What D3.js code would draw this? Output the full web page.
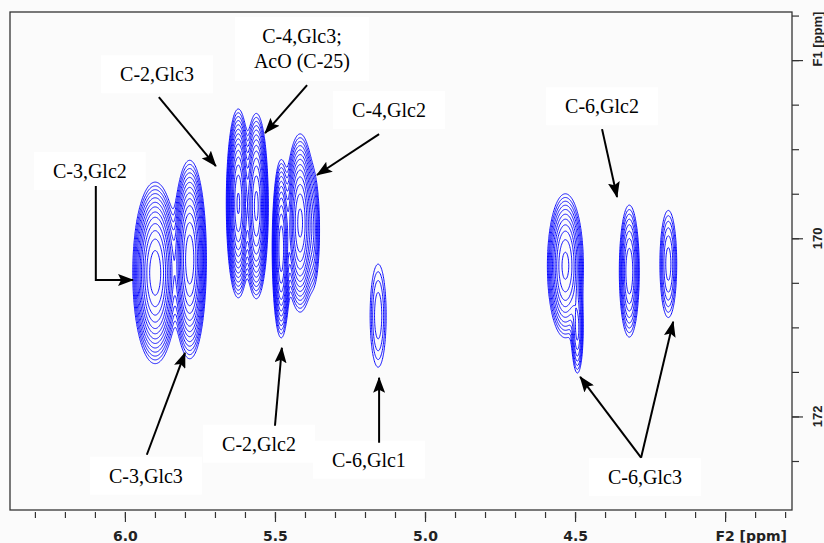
<!DOCTYPE html>
<html>
<head>
<meta charset="utf-8">
<script src="https://cdn.jsdelivr.net/npm/d3@7"></script>
<style>
  body { margin: 0; background: #fbfbfb; }
  svg { display: block; }
</style>
</head>
<body>
<svg id="chart" width="824" height="543"></svg>
<script>
// HMBC cross peaks (F2 = 1H, F1 = 13C)
const peakNames   = ["C-3,Glc2", "C-3,Glc3", "C-2,Glc3", "C-4,Glc3", "C-2,Glc2", "C-4,Glc2",
                     "C-4,Glc2 sh", "C-6,Glc1", "C-6,Glc3 a", "C-6,Glc3 a tail", "C-6,Glc2", "C-6,Glc3 b"];
const peakF2      = [5.900, 5.785, 5.623, 5.563, 5.480, 5.417, 5.373, 5.157, 4.533, 4.493, 4.320, 4.190];
const peakF1      = [170.38, 170.23, 169.60, 169.63, 170.11, 169.82, 169.91, 170.86, 170.30, 171.03, 170.36, 170.28];
const peakWidthF2 = [0.0275, 0.0205, 0.0145, 0.0150, 0.0115, 0.0188, 0.0120, 0.0180, 0.0245, 0.0100, 0.0155, 0.0156];
const peakWidthF1 = [0.375, 0.410, 0.384, 0.390, 0.383, 0.375, 0.350, 0.390, 0.330, 0.250, 0.345, 0.335];
const peakHeight  = [40, 40, 45, 35, 30, 35, 4, 3, 20, 6, 10, 5];

const contourLevels = [1, 1.35, 1.8, 2.4, 3.2, 4.3, 5.7, 7.6, 10, 13.5, 18, 24, 32, 43];

// axes
const f2Major = [6.0, 5.5, 5.0, 4.5, 4.0];
const f2MajorLabels = ["6.0", "5.5", "5.0", "4.5", ""];
const f1Major = [168, 170, 172];
const f1MajorLabels = ["", "170", "172"];

// annotations: text lines, anchor (ppm), arrow polylines ending at the peak (ppm)
const labelText = [["C-3,Glc2"], ["C-2,Glc3"], ["C-4,Glc3;", "AcO (C-25)"], ["C-4,Glc2"],
                   ["C-3,Glc3"], ["C-2,Glc2"], ["C-6,Glc1"], ["C-6,Glc2"], ["C-6,Glc3"]];
const labelF2 = [6.117, 5.893, 5.410, 5.120, 5.930, 5.553, 5.187, 4.410, 4.267];
const labelF1 = [169.324, 168.237, 167.810, 168.640, 172.743, 172.385, 172.564, 168.596, 172.760];
const arrowPaths = [
  [[6.097, 169.414], [6.097, 170.468], [5.973, 170.468]],
  [[5.887, 168.416], [5.697, 169.189]],
  [[5.393, 168.281], [5.533, 168.819]],
  [[5.153, 168.830], [5.360, 169.290]],
  [[5.927, 172.430], [5.800, 171.286]],
  [[5.500, 172.104], [5.477, 171.230]],
  [[5.153, 172.295], [5.153, 171.566]],
  [[4.410, 168.775], [4.360, 169.537]],
  [[4.280, 172.463], [4.483, 171.555]],
  [[4.280, 172.463], [4.173, 170.938]]
];

const box = { left: 10, right: 792, top: 12, bottom: 510 };

const svg = d3.select("#chart");

const x = d3.scaleLinear().domain([6.383, 3.777]).range([box.left, box.right]);
const y = d3.scaleLinear().domain([167.46, 173.05]).range([box.top, box.bottom]);

const defs = svg.append("defs");
defs.append("clipPath").attr("id", "plotClip")
  .append("rect")
  .attr("x", box.left).attr("y", box.top)
  .attr("width", box.right - box.left).attr("height", box.bottom - box.top);

defs.append("marker")
  .attr("id", "arrowHead")
  .attr("viewBox", "0 0 16 12")
  .attr("refX", 15).attr("refY", 6)
  .attr("markerWidth", 16).attr("markerHeight", 12)
  .attr("markerUnits", "userSpaceOnUse")
  .attr("orient", "auto")
  .append("path")
  .attr("d", "M0,0 L16,6 L0,12 L3,6 Z")
  .attr("fill", "#000");

// plot background
svg.append("rect")
  .attr("x", box.left).attr("y", box.top)
  .attr("width", box.right - box.left).attr("height", box.bottom - box.top)
  .attr("fill", "#fbfbfb");

// ---- label boxes and text (drawn under the contours) ----
const labelG = svg.append("g").attr("font-family", "'Liberation Serif', 'DejaVu Serif', serif")
  .attr("font-size", 20).attr("fill", "#000");

labelText.forEach((lines, i) => {
  const g = labelG.append("g");
  const t = g.append("text")
    .attr("x", x(labelF2[i])).attr("y", y(labelF1[i]))
    .attr("text-anchor", "middle");
  lines.forEach((line, k) => {
    t.append("tspan").attr("x", x(labelF2[i])).attr("dy", k === 0 ? 0 : 25).text(line);
  });
  const bb = t.node().getBBox();
  g.insert("rect", "text")
    .attr("x", bb.x - 19).attr("y", bb.y - 8)
    .attr("width", bb.width + 38).attr("height", bb.height + 16)
    .attr("fill", "#fff");
});

// ---- contour surface ----
const stepX = 0.5, stepY = 1.5;
const nx = Math.ceil((box.right - box.left) / stepX);
const ny = Math.ceil((box.bottom - box.top) / stepY);
const values = new Float64Array(nx * ny);
for (let j = 0; j < ny; j++) {
  const f1 = y.invert(box.top + j * stepY);
  for (let i = 0; i < nx; i++) {
    const f2 = x.invert(box.left + i * stepX);
    let v = 0;
    for (let p = 0; p < peakF2.length; p++) {
      const dx = (f2 - peakF2[p]) / peakWidthF2[p];
      const dy = (f1 - peakF1[p]) / peakWidthF1[p];
      const r2 = dx * dx + dy * dy;
      if (r2 < 40) v += peakHeight[p] * Math.exp(-0.5 * r2);
    }
    values[j * nx + i] = v;
  }
}

const contours = d3.contours().size([nx, ny]).thresholds(contourLevels)(values);
const gridToPx = d3.geoTransform({
  point(gx, gy) { this.stream.point(box.left + gx * stepX, box.top + gy * stepY); }
});
svg.append("g")
  .attr("clip-path", "url(#plotClip)")
  .selectAll("path")
  .data(contours)
  .join("path")
  .attr("d", d3.geoPath(gridToPx))
  .attr("fill", "none")
  .attr("stroke", "#0a0aff")
  .attr("stroke-width", 1);

// ---- arrows ----
const line = d3.line().x(d => x(d[0])).y(d => y(d[1]));
svg.append("g").selectAll("path")
  .data(arrowPaths)
  .join("path")
  .attr("d", line)
  .attr("fill", "none")
  .attr("stroke", "#000")
  .attr("stroke-width", 2)
  .attr("marker-end", "url(#arrowHead)");

// ---- frame ----
svg.append("rect")
  .attr("x", box.left).attr("y", box.top)
  .attr("width", box.right - box.left).attr("height", box.bottom - box.top)
  .attr("fill", "none").attr("stroke", "#333").attr("stroke-width", 1.3);

// ---- bottom (F2) axis ----
const f2Minor = d3.range(38, 64).map(v => v / 10);
const bottomG = svg.append("g").attr("transform", `translate(0,${box.bottom + 2})`);
bottomG.call(d3.axisBottom(x).tickValues(f2Minor).tickSize(6).tickFormat(""))
  .call(g => g.select(".domain").remove());
bottomG.append("g").call(d3.axisBottom(x).tickValues(f2Major).tickSize(10)
    .tickFormat((d, i) => f2MajorLabels[i]))
  .call(g => g.select(".domain").remove())
  .call(g => g.selectAll("text").attr("y", 29).attr("dy", 0)
    .attr("font-family", "'DejaVu Sans', sans-serif").attr("font-weight", "bold")
    .attr("font-size", 14).attr("fill", "#222"));
bottomG.selectAll("line").attr("stroke", "#333").attr("stroke-width", 1.2);
svg.append("text")
  .attr("x", 787).attr("y", box.bottom + 31)
  .attr("text-anchor", "end")
  .attr("font-family", "'DejaVu Sans', sans-serif").attr("font-weight", "bold")
  .attr("font-size", 14).attr("fill", "#222")
  .text("F2 [ppm]");

// ---- right (F1) axis ----
const f1Minor = d3.range(335, 346).map(v => v / 2);
const rightG = svg.append("g").attr("transform", `translate(${box.right},0)`);
rightG.call(d3.axisRight(y).tickValues(f1Minor).tickSize(7).tickFormat(""))
  .call(g => g.select(".domain").remove());
rightG.append("g").call(d3.axisRight(y).tickValues(f1Major).tickSize(11).tickFormat(""))
  .call(g => g.select(".domain").remove());
rightG.selectAll("line").attr("stroke", "#333").attr("stroke-width", 1.2);
rightG.selectAll("text.f1lab")
  .data(f1Major)
  .join("text")
  .attr("class", "f1lab")
  .attr("transform", d => `translate(30,${y(d)}) rotate(-90)`)
  .attr("text-anchor", "middle")
  .attr("font-family", "'Liberation Sans', Arial, sans-serif").attr("font-weight", "bold")
  .attr("font-size", 13).attr("fill", "#222")
  .text((d, i) => f1MajorLabels[i]);
rightG.append("text")
  .attr("transform", `translate(30,${y(168) - 21}) rotate(-90)`)
  .attr("text-anchor", "middle")
  .attr("font-family", "'Liberation Sans', Arial, sans-serif").attr("font-weight", "bold")
  .attr("font-size", 13).attr("fill", "#222")
  .text("F1 [ppm]");
</script>
</body>
</html>
